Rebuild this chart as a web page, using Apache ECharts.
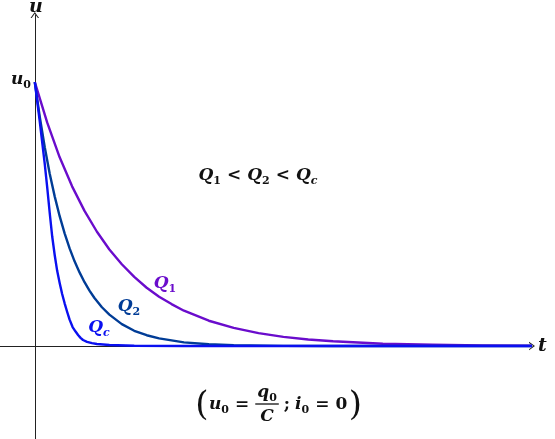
<!DOCTYPE html>
<html><head><meta charset="utf-8">
<script src="https://cdn.jsdelivr.net/npm/echarts@6/dist/echarts.min.js"></script>
<style>html,body{margin:0;padding:0;background:#fff}#c{width:555px;height:439px}</style>
</head><body><div id="c"></div>
<script>
// Data (t in arbitrary time units, u in units of u0)
const tQ1 = [0,0.25,0.5,0.75,1,1.25,1.5,1.75,2,2.25,2.5,2.75,3,3.5,4,4.5,5,5.5,6,7,8,9,10];
const uQ1 = [1,0.846,0.715,0.605,0.512,0.433,0.366,0.310,0.262,0.221,0.187,0.159,0.134,0.096,0.069,0.049,0.035,0.025,0.018,0.009,0.005,0.002,0.001];
const tQ2 = [0,0.1,0.2,0.3,0.4,0.5,0.6,0.7,0.8,0.9,1,1.1,1.2,1.35,1.5,1.75,2,2.25,2.5,3,3.5,4,5,6,8,10];
const uQ2 = [1,0.868,0.753,0.653,0.567,0.492,0.427,0.370,0.321,0.279,0.242,0.210,0.182,0.147,0.119,0.083,0.058,0.041,0.029,0.014,0.007,0.0034,0.0008,0.0002,0,0];
const tQc = [0,0.05,0.1,0.15,0.2,0.25,0.3,0.35,0.4,0.45,0.5,0.55,0.6,0.65,0.7,0.76,0.82,0.87,0.92,0.97,1.05,1.15,1.25,1.5,2,3,10];
const uQc = [1,0.925,0.85,0.77,0.69,0.60,0.504,0.415,0.345,0.285,0.239,0.197,0.162,0.130,0.10,0.072,0.055,0.042,0.031,0.023,0.016,0.011,0.008,0.004,0.001,0,0];

const colQ1 = '#6a0ccc', colQ2 = '#003c96', colQc = '#0a10f0';
const FONT = '"DejaVu Serif", "Liberation Serif", serif';
const cv = document.createElement('canvas').getContext('2d');
function fnt(p){ return (p.italic===false?'normal':'italic') + ' bold ' + p.size + 'px ' + FONT; }
function mw(p){ cv.font = fnt(p); return cv.measureText(p.t).width; }
function rowWidth(parts){ let t=0; parts.forEach(p=>{ t += mw(p)+(p.gap||0); }); return t; }
let g = [];
// parts: {t, size, italic, sub, gap}; returns x after the row
function row(parts, x0, cy, color, align){
  const total = rowWidth(parts);
  let x = align==='center' ? x0 - total/2 : (align==='right' ? x0 - total : x0);
  parts.forEach(p => {
    g.push({type:'text', x:x, y: cy + (p.sub ? 5 : 0), z:100,
      style:{text:p.t, font:fnt(p), fill:color, align:'left', verticalAlign:'middle'}});
    x += mw(p) + (p.gap||0);
  });
  return x;
}
const M = 17, S = 11;
// axis names
row([{t:'u',size:19}], 36, 7, '#111', 'center');
row([{t:'t',size:19}], 538, 346, '#111', 'left');
row([{t:'u',size:M},{t:'0',size:S,italic:false,sub:true}], 31, 80, '#111', 'right');
// relation
row([{t:'Q',size:M},{t:'1',size:S,italic:false,sub:true,gap:6},{t:'<',size:M,italic:false,gap:6},
  {t:'Q',size:M},{t:'2',size:S,italic:false,sub:true,gap:6},{t:'<',size:M,italic:false,gap:6},
  {t:'Q',size:M},{t:'c',size:S,sub:true}], 258, 176, '#111', 'center');
// curve labels
row([{t:'Q',size:M},{t:'1',size:S,italic:false,sub:true}], 165, 284, colQ1, 'center');
row([{t:'Q',size:M},{t:'2',size:S,italic:false,sub:true}], 129, 307, colQ2, 'center');
row([{t:'Q',size:M},{t:'c',size:S,sub:true}], 99, 328, colQc, 'center');
// bottom formula
const by = 405;
g.push({type:'text', x:202, y:by+1, z:100, style:{text:'(', font:'normal 34px '+FONT, fill:'#111', align:'center', verticalAlign:'middle'}});
let x = row([{t:'u',size:M},{t:'0',size:S,italic:false,sub:true,gap:6},{t:'=',size:M,italic:false,gap:6}], 209, by, '#111', 'left');
const fw = Math.max(rowWidth([{t:'q',size:M},{t:'0',size:S,italic:false}]), rowWidth([{t:'C',size:M}])) + 4;
row([{t:'q',size:M},{t:'0',size:S,italic:false,sub:true}], x + fw/2, by-12, '#111', 'center');
g.push({type:'line', z:100, shape:{x1:x, y1:by-1, x2:x+fw, y2:by-1}, style:{stroke:'#111', lineWidth:1.3}});
row([{t:'C',size:M}], x + fw/2, by+12, '#111', 'center');
x = row([{t:';',size:M,italic:false,gap:5},{t:'i',size:M},{t:'0',size:S,italic:false,sub:true,gap:6},{t:'=',size:M,italic:false,gap:6},{t:'0',size:M,italic:false,gap:3}], x + fw + 5, by, '#111', 'left');
g.push({type:'text', x:x+5, y:by+1, z:100, style:{text:')', font:'normal 34px '+FONT, fill:'#111', align:'center', verticalAlign:'middle'}});

const CHEV = 'path://M5,0 L10,7 L8.6,7 L5,2 L1.4,7 L0,7 Z';
const zip = (a,b) => a.map((v,i)=>[v,b[i]]);
const ser = (d,c) => ({type:'line', data:d, showSymbol:false, smooth:false,
  lineStyle:{color:c, width:2.4, join:'round'}, itemStyle:{color:c}, silent:true, animation:false});
const chart = echarts.init(document.getElementById('c'), null, {renderer:'canvas'});
chart.setOption({
  animation:false,
  backgroundColor:'#fff',
  grid:{left:0, right:23, top:15, bottom:0, containLabel:false, outerBoundsMode:'none'},
  xAxis:{type:'value', min:-0.7, max:10, splitLine:{show:false}, axisTick:{show:false}, axisLabel:{show:false},
    axisLine:{onZero:true, symbol:['none',CHEV], symbolSize:[9,6], lineStyle:{color:'#222', width:1}}},
  yAxis:{type:'value', min:-0.352, max:1.254, splitLine:{show:false}, axisTick:{show:false}, axisLabel:{show:false},
    axisLine:{onZero:true, symbol:['none',CHEV], symbolSize:[9,6], lineStyle:{color:'#222', width:1}}},
  series:[ser(zip(tQ1,uQ1),colQ1), ser(zip(tQ2,uQ2),colQ2), ser(zip(tQc,uQc),colQc)],
  graphic:g
});
</script></body></html>
